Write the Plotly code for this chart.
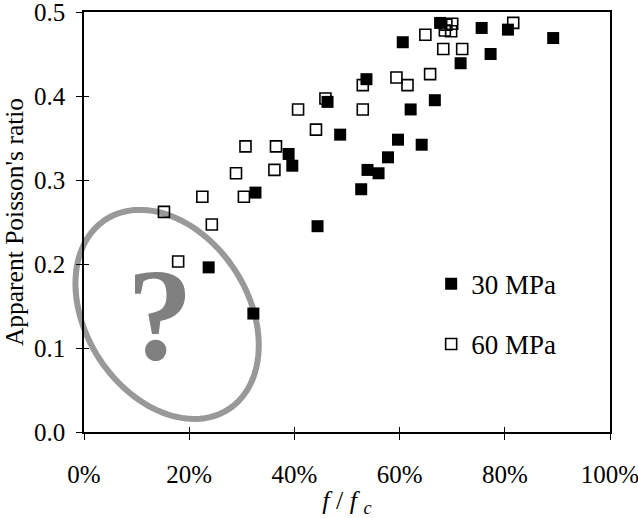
import numpy as np
import plotly.graph_objects as go

# ---- data ----
x_30 = [23.7, 32.2, 32.6, 38.9, 39.6, 44.4, 46.3, 48.7, 52.7, 53.7, 53.9, 56.0,
        57.8, 59.7, 60.6, 62.1, 64.2, 66.7, 67.7, 71.6, 75.6, 77.3, 80.6, 89.2]
y_30 = [0.196, 0.141, 0.285, 0.331, 0.317, 0.245, 0.393, 0.354, 0.289, 0.420, 0.312, 0.308,
        0.327, 0.348, 0.464, 0.384, 0.342, 0.395, 0.487, 0.439, 0.481, 0.450, 0.479, 0.469]

x_60 = [15.2, 17.9, 22.5, 24.3, 28.9, 30.4, 30.7, 36.2, 36.5, 40.7, 44.1, 45.9,
        53.0, 53.0, 59.4, 61.5, 65.8, 64.9, 68.3, 71.9, 68.9, 70.0, 68.6, 69.8, 81.6]
y_60 = [0.262, 0.203, 0.280, 0.247, 0.308, 0.280, 0.340, 0.312, 0.340, 0.384, 0.360, 0.397,
        0.413, 0.384, 0.422, 0.413, 0.426, 0.473, 0.456, 0.456, 0.485, 0.486, 0.478, 0.477, 0.487]

x_ticks = [0, 20, 40, 60, 80, 100]
x_tick_labels = ["0%", "20%", "40%", "60%", "80%", "100%"]
y_ticks = [0.0, 0.1, 0.2, 0.3, 0.4, 0.5]
y_tick_labels = ["0.0", "0.1", "0.2", "0.3", "0.4", "0.5"]

# ---- layout geometry ----
W, H = 638, 518
ML, MR, MT, MB = 84, 28, 12, 86
PW, PH = W - ML - MR, H - MT - MB
XR = [0, 100]
YR = [0, 0.5]

FONT = "Liberation Serif, Times New Roman, serif"

fig = go.Figure()

fig.add_trace(go.Scatter(
    x=x_60, y=y_60, mode="markers", name="60 MPa", legendgroup="b", legendrank=2,
    marker=dict(symbol="square-open", size=11, color="black",
                line=dict(width=1.6, color="black")),
))
fig.add_trace(go.Scatter(
    x=x_30, y=y_30, mode="markers", name="30 MPa", legendgroup="a", legendrank=1,
    marker=dict(symbol="square", size=12, color="black", line=dict(width=0)),
))
# overlay axes to draw the inner half of the crossing ticks
fig.add_trace(go.Scatter(x=[None], y=[None], xaxis="x2", yaxis="y2",
                         showlegend=False, hoverinfo="skip"))

# ---- ellipse (decoration) in paper coordinates ----
ell_cx, ell_cy = 15.8, 0.140       # centre in data units
ell_a, ell_b, ell_ang = 113, 81, 57  # semi-axes in px, angle in degrees (screen, clockwise)
t = np.linspace(0, 2 * np.pi, 121)
th = np.deg2rad(ell_ang)
dx = ell_a * np.cos(t) * np.cos(th) - ell_b * np.sin(t) * np.sin(th)
dy = ell_a * np.cos(t) * np.sin(th) + ell_b * np.sin(t) * np.cos(th)
cxp = (ell_cx - XR[0]) / (XR[1] - XR[0])
cyp = (ell_cy - YR[0]) / (YR[1] - YR[0])
px = cxp + dx / PW
py = cyp - dy / PH
path = "M " + " L ".join(f"{a:.5f},{b:.5f}" for a, b in zip(px, py)) + " Z"
fig.add_shape(type="path", path=path, xref="paper", yref="paper",
              line=dict(color="#999999", width=6), layer="below")

fig.add_annotation(text="?", x=14.5, y=0.140, xref="x", yref="y",
                   showarrow=False, xanchor="center", yanchor="middle",
                   font=dict(family=FONT, size=132, color="#808080", weight="bold"))

axis_common = dict(showgrid=False, zeroline=False, showline=True, linecolor="black",
                   linewidth=1.5, mirror=True, ticks="outside", ticklen=6,
                   tickcolor="black", tickwidth=1, automargin=False,
                   ticklabeloverflow="allow",
                   tickfont=dict(family=FONT, size=25, color="black"))

fig.update_layout(
    width=W, height=H,
    margin=dict(l=ML, r=MR, t=MT, b=MB, autoexpand=False),
    paper_bgcolor="white", plot_bgcolor="rgba(0,0,0,0)",
    showlegend=True,
    legend=dict(x=0.66, y=0.41, xanchor="left", yanchor="top",
                traceorder="grouped", tracegroupgap=22,
                font=dict(family=FONT, size=27, color="black"),
                bgcolor="rgba(0,0,0,0)", itemclick=False),
    xaxis=dict(range=XR, tickvals=x_ticks, ticktext=x_tick_labels,
               ticklabelstandoff=13,
               title=dict(text="<i>f</i> / <i>f</i> <sub><i>c</i></sub>",
                          font=dict(family=FONT, size=26, color="black"), standoff=5),
               **axis_common),
    yaxis=dict(range=YR, tickvals=y_ticks, ticktext=y_tick_labels,
               ticklabelstandoff=6,
               title=dict(text="Apparent Poisson's ratio",
                          font=dict(family=FONT, size=25.5, color="black"), standoff=9),
               **axis_common),
    xaxis2=dict(range=XR, tickvals=x_ticks, overlaying="x", anchor="y2",
                showticklabels=False, showgrid=False, zeroline=False, showline=False,
                automargin=False,
                ticks="inside", ticklen=5, tickcolor="black", tickwidth=1),
    yaxis2=dict(range=YR, tickvals=y_ticks, overlaying="y", anchor="x2",
                showticklabels=False, showgrid=False, zeroline=False, showline=False,
                automargin=False,
                ticks="inside", ticklen=5, tickcolor="black", tickwidth=1),
)

fig.write_html("out.html",
               config={"displayModeBar": False},
               post_script="document.body.style.margin='0';document.body.style.overflow='hidden';")
